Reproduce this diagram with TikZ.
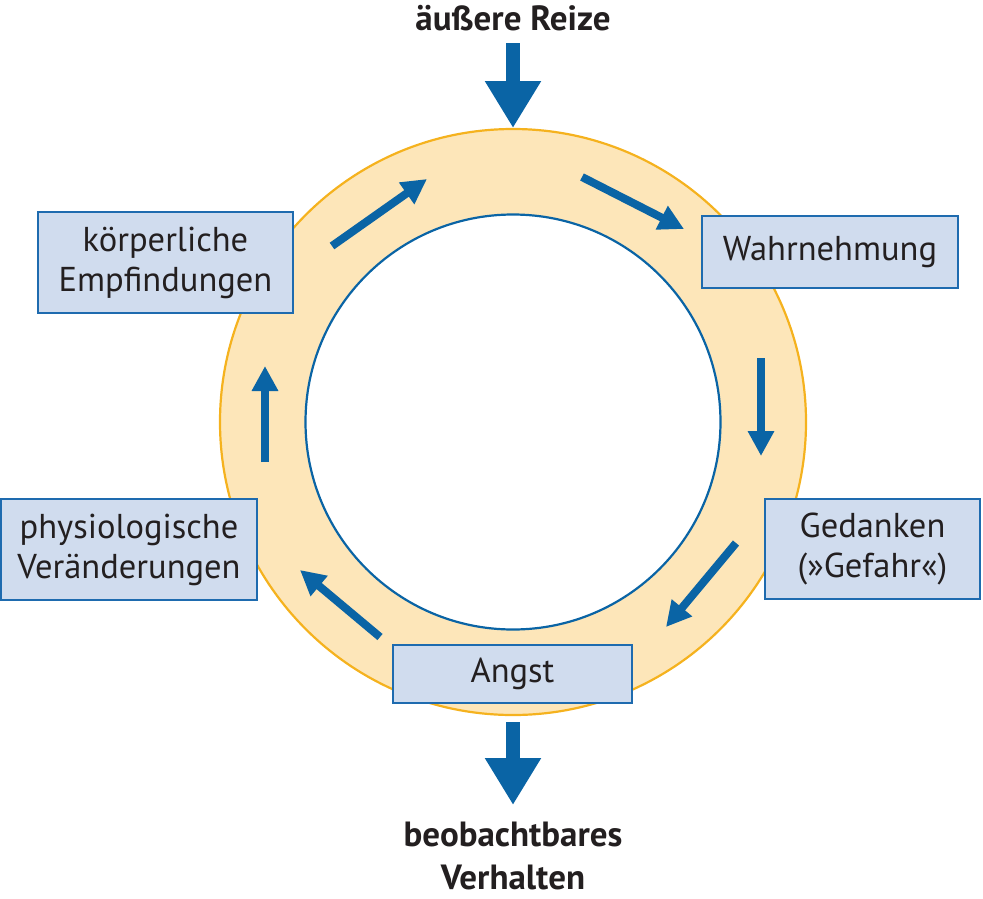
\documentclass[tikz,border=0pt]{standalone}
\usepackage{fontspec}
\setmainfont{PT Sans}
\usetikzlibrary{arrows.meta}
\definecolor{ringfill}{HTML}{FDE6B9}
\definecolor{ringline}{HTML}{F5B21E}
\definecolor{arrblue}{HTML}{0A64A5}
\definecolor{boxfill}{HTML}{D0DCEE}
\definecolor{boxline}{HTML}{1E6BAF}
\definecolor{txt}{HTML}{231F20}
\tikzset{
  box/.style={draw=boxline, line width=2.5pt, fill=boxfill, text=txt, align=center,
    inner sep=0pt, font=\fontsize{34.5}{40}\selectfont},
  ringarrow/.style={draw=arrblue, line width=8pt, line cap=butt,
    -{Triangle[width=25pt,length=25pt]}},
  bigarrow/.style={draw=arrblue, line width=14pt, line cap=butt,
    -{Triangle[width=53pt,length=47pt]}},
  bigtext/.style={text=txt, font=\bfseries\fontsize{35}{43}\selectfont, align=center, inner sep=0pt}
}
\begin{document}
\begin{tikzpicture}[x=1pt,y=-1pt]
\useasboundingbox (0,0) rectangle (983,898);
% ring
\fill[ringfill, even odd rule] (513,422) circle[radius=293] (513,422) circle[radius=207.5];
\draw[ringline, line width=2.2pt] (513,422) circle[radius=293];
\draw[arrblue, line width=2.2pt] (513,422) circle[radius=207.5];
% boxes
\node[box, minimum width=255pt, minimum height=101pt] (koerp) at (165.5,262.5) {körperliche\\Empfindungen};
\node[box, minimum width=256pt, minimum height=72pt] (wahr) at (830,252) {Wahrnehmung};
\node[box, minimum width=215pt, minimum height=100pt] (ged) at (872.5,549) {Gedanken\\(»Gefahr«)};
\node[box, minimum width=256pt, minimum height=101pt] (phys) at (129,549.5) {physiologische\\Veränderungen};
\node[box, minimum width=239pt, minimum height=58pt] (angst) at (512.5,674) {Angst};
% top / bottom labels
\node[bigtext] (reize) at (513,18) {äußere Reize};
\node[bigtext] (verh) at (513,856) {beobachtbares\\Verhalten};
% big arrows
\coordinate (t1) at (513,43);
\coordinate (t2) at (513,128);
\draw[bigarrow] (t1) -- (t2);
\coordinate (b1) at (513,722);
\coordinate (b2) at (513,805);
\draw[bigarrow] (b1) -- (b2);
% ring arrows
\coordinate (a1) at (332,246); \coordinate (a2) at (427,179);
\coordinate (c1) at (582,177); \coordinate (c2) at (684,229);
\coordinate (d1) at (761,358); \coordinate (d2) at (761,456);
\coordinate (e1) at (736,543); \coordinate (e2) at (666,627);
\coordinate (f1) at (380,637); \coordinate (f2) at (300,570);
\coordinate (g1) at (265,462); \coordinate (g2) at (265,366);
\draw[ringarrow] (a1) -- (a2);
\draw[ringarrow] (c1) -- (c2);
\draw[ringarrow] (d1) -- (d2);
\draw[ringarrow] (e1) -- (e2);
\draw[ringarrow] (f1) -- (f2);
\draw[ringarrow] (g1) -- (g2);
\end{tikzpicture}
\end{document}
